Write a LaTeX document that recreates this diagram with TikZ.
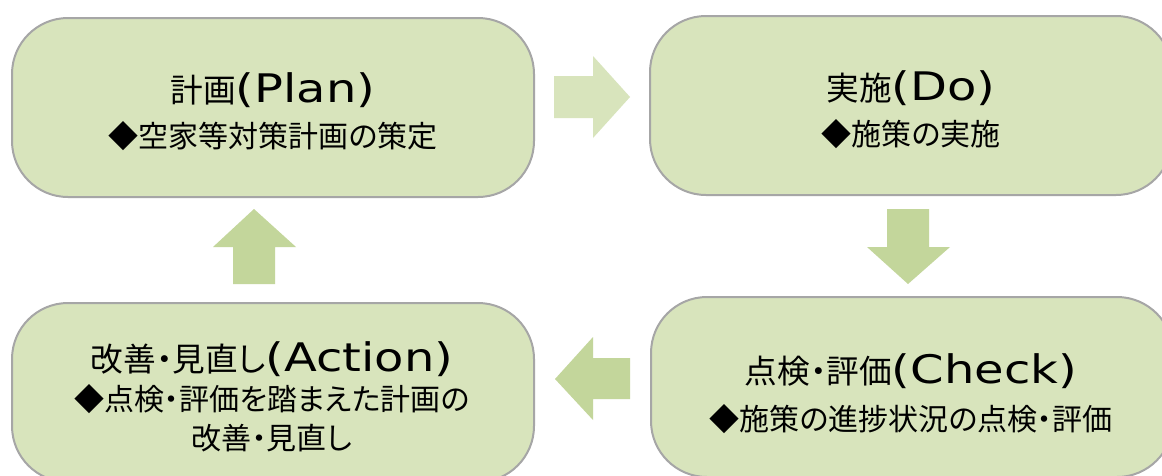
\documentclass[tikz,border=0pt]{standalone}
\usepackage{fontspec}
\usepackage{graphicx}
\setmainfont[RawFeature=+palt]{Noto Sans CJK JP}
\newfontfamily\latinf{DejaVu Sans}
\newcommand{\lat}[1]{\scalebox{1.22}[1]{\fontsize{29.5pt}{36pt}\latinf #1}}
\newcommand{\ttlsize}{\fontsize{24.5pt}{29pt}\selectfont}
\newcommand{\sbtsize}{\fontsize{22.5pt}{29.25pt}\selectfont}
\definecolor{boxfill}{HTML}{D8E4BC}
\definecolor{boxline}{HTML}{A6A6A6}
\definecolor{arrowlight}{HTML}{D8E4BC}
\definecolor{arrowmid}{HTML}{C3D69B}
\tikzset{
  stagebox/.style={draw=boxline, fill=boxfill, line width=1.5pt, rounded corners=42pt,
    minimum width=391.5pt, minimum height=134.25pt, inner sep=0pt},
  titletext/.style={anchor=base, inner sep=0pt, font=\ttlsize},
  subtext/.style={anchor=base, inner sep=0pt, font=\sbtsize}
}
\begin{document}
\begin{tikzpicture}[x=0.75pt, y=-0.75pt]
\path[fill=white] (0,0) rectangle (1162,475);
\useasboundingbox (0,0) rectangle (1162,475);
\clip (0,0) rectangle (1162,475);

% stage boxes
\node[stagebox] (plan) at (273,107.5) {};
\node[stagebox] (do)   at (911,105.5) {};
\node[stagebox] (act)  at (273,392.5) {};
\node[stagebox, minimum height=135pt] (chk)  at (912,387) {};

% texts
\node[titletext] (plantitle) at (273,102) {計画\lat{(Plan)}};
\node[subtext]   (plansub)   at (273,147) {◆空家等対策計画の策定};

\node[titletext] (dotitle) at (911,100) {実施\lat{(Do)}};
\node[subtext]   (dosub)   at (911,145) {◆施策の実施};

\node[titletext] (chktitle) at (911,383) {点検・評価\lat{(Check)}};
\node[subtext]   (chksub)   at (911,430) {◆施策の進捗状況の点検・評価};

\node[titletext] (acttitle) at (272,371) {改善・見直し\lat{(Action)}};
\node[subtext]   (actsubA)  at (272,410) {◆点検・評価を踏まえた計画の};
\node[subtext]   (actsubB)  at (272,449) {改善・見直し};

% block arrows
\fill[arrowlight] (554,76)--(593,76)--(593,56)--(630,97)--(593,138)--(593,118)--(554,118)--cycle;
\fill[arrowmid] (887,209)--(929,209)--(929,247)--(950,247)--(908,284)--(867,247)--(887,247)--cycle;
\fill[arrowmid] (630,358)--(593,358)--(593,337)--(555,379)--(593,420)--(593,399)--(630,399)--cycle;
\fill[arrowmid] (233,284)--(233,247)--(213,247)--(254,209)--(296,247)--(275,247)--(275,284)--cycle;
\end{tikzpicture}
\end{document}
